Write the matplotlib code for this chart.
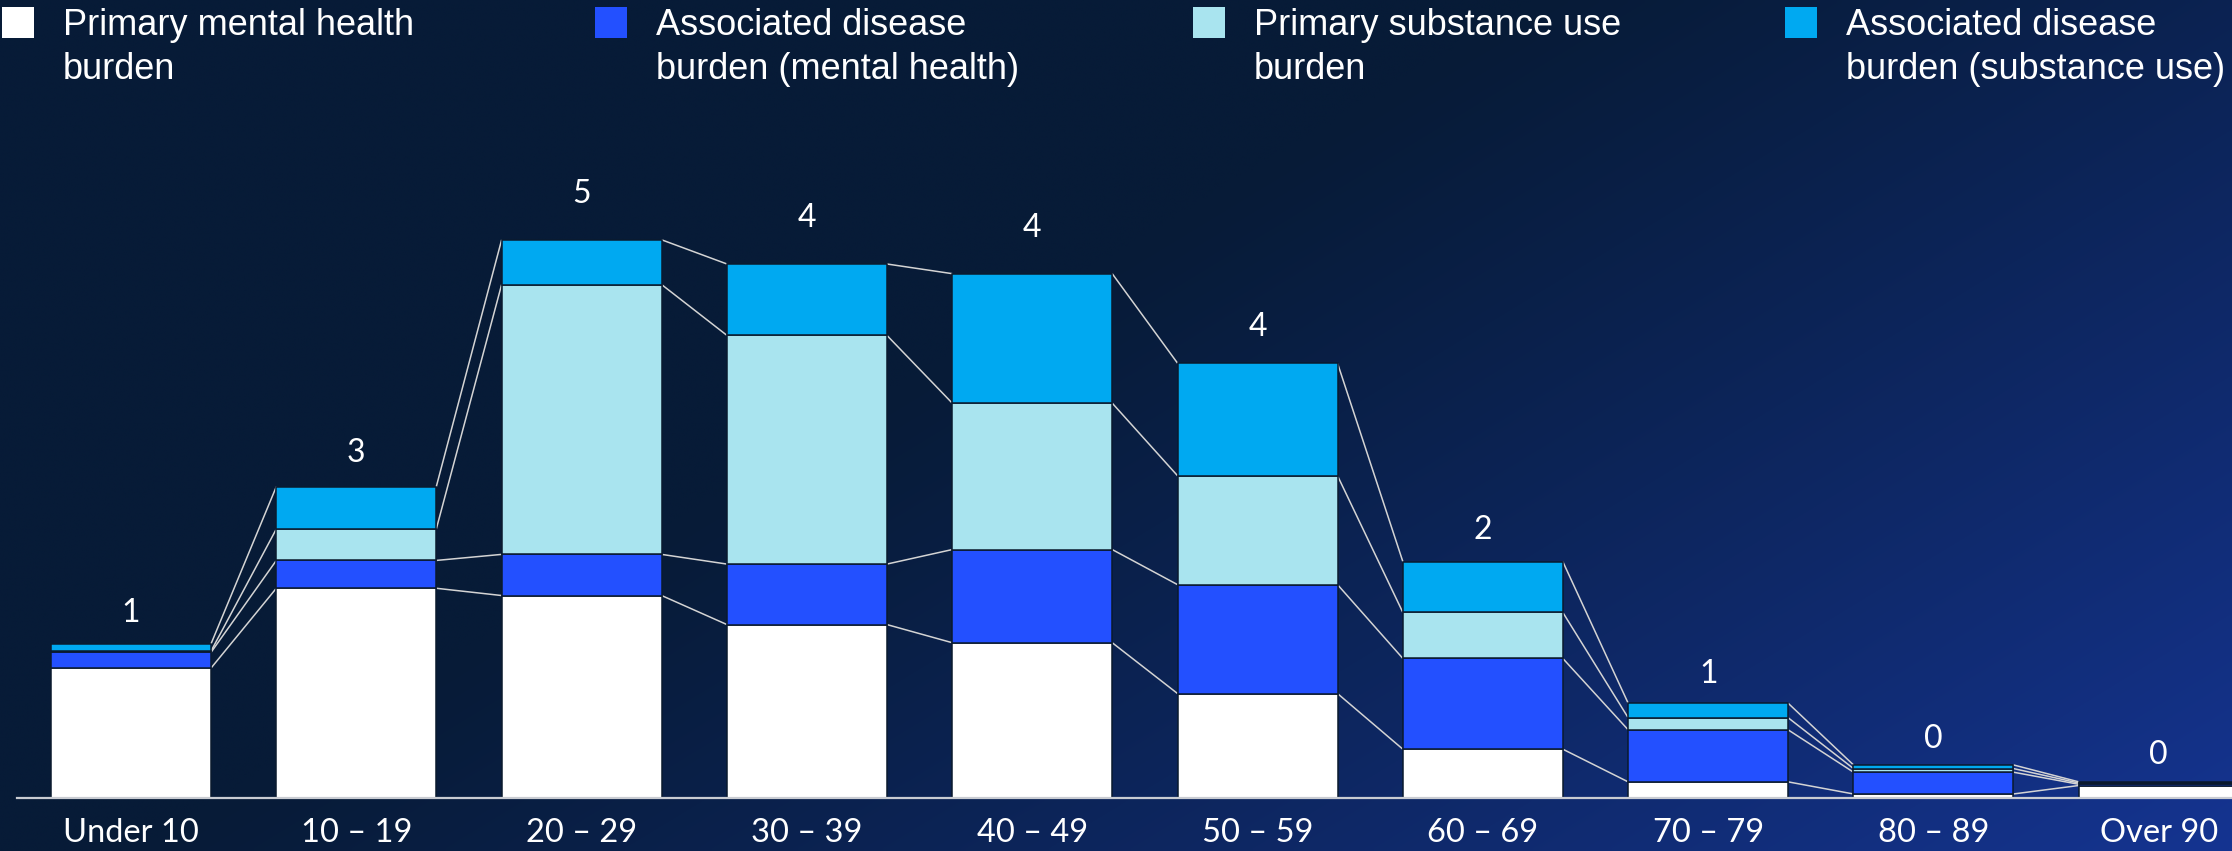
import matplotlib.pyplot as plt
import numpy as np
from matplotlib.patches import Rectangle

# burden by age group, stacked from the bottom up
age_groups = ["Under 10", "10 \u2013 19", "20 \u2013 29", "30 \u2013 39", "40 \u2013 49",
              "50 \u2013 59", "60 \u2013 69", "70 \u2013 79", "80 \u2013 89", "Over 90"]
primary_mh = [1.07, 1.73, 1.67, 1.43, 1.28, 0.86, 0.40, 0.13, 0.03, 0.10]
assoc_mh = [0.13, 0.23, 0.34, 0.50, 0.77, 0.90, 0.75, 0.43, 0.18, 0.01]
primary_su = [0.01, 0.26, 2.23, 1.89, 1.21, 0.90, 0.38, 0.10, 0.03, 0.01]
assoc_su = [0.06, 0.35, 0.37, 0.59, 1.07, 0.93, 0.42, 0.12, 0.03, 0.01]

series_names = ["Primary mental health\nburden",
                "Associated disease\nburden (mental health)",
                "Primary substance use\nburden",
                "Associated disease\nburden (substance use)"]
colors = ["#ffffff", "#2350ff", "#a9e4ef", "#00a9f1"]

# gap between bar top and total label, in points
label_gap = [22, 24, 33, 33, 33, 26, 23, 21, 19, 19]

W, H = 2232, 851
DPI = 100
fig = plt.figure(figsize=(W / DPI, H / DPI), dpi=DPI)

# background gradient, dark navy fading to blue at the lower right
bg = fig.add_axes([0, 0, 1, 1])
bg.set_xlim(0, W)
bg.set_ylim(H, 0)
bg.axis("off")
gx, gy = np.meshgrid(np.linspace(0, 1, 400), np.linspace(0, 1, 160))
t = np.clip((gx * 0.8 + gy * 0.5 - 0.55) / 0.75, 0, 1) ** 1.1
c0 = np.array([7, 27, 55]) / 255
c1 = np.array([21, 52, 145]) / 255
img = c0[None, None, :] * (1 - t[..., None]) + c1[None, None, :] * t[..., None]
bg.imshow(img, extent=[0, W, H, 0], aspect="auto", interpolation="bilinear")

# legend along the top
leg_sq = [2, 595, 1193, 1785]
for x0, name, col in zip(leg_sq, series_names, colors):
    bg.add_patch(Rectangle((x0, 7), 32, 31, facecolor=col, edgecolor="none"))
    bg.text(x0 + 61, 8, name, color="white", fontsize=26, family="Liberation Sans",
            va="top", ha="left", linespacing=1.32)

ax = fig.add_axes([17 / W, (H - 797.6) / H, (W - 17) / W, 667.6 / H])
ax.set_facecolor("none")
ax.patch.set_alpha(0)

x = np.arange(len(age_groups))
width = 0.71
stack = np.array([primary_mh, assoc_mh, primary_su, assoc_su])
bottoms = np.vstack([np.zeros(len(x)), np.cumsum(stack, axis=0)[:-1]])
tops = np.cumsum(stack, axis=0)

for vals, btm, col in zip(stack, bottoms, colors):
    ax.bar(x, vals, width, bottom=btm, color=col, edgecolor="#0a1a2e", linewidth=1.1, zorder=3)

# connector lines between matching segment tops
for s in range(len(stack)):
    for i in range(len(x) - 1):
        ax.plot([x[i] + width / 2, x[i + 1] - width / 2], [tops[s][i], tops[s][i + 1]],
                color="#d4d4d4", lw=1.1, zorder=2, solid_capstyle="butt")

totals = tops[-1]
for xi, tot, gap in zip(x, totals, label_gap):
    ax.annotate(f"{int(round(tot))}", (xi, tot), xytext=(0, gap), textcoords="offset points",
                ha="center", va="center", color="white", fontsize=23, family="Lato")

ax.set_xlim(-0.506, 9.325)
ax.set_ylim(0, 667.6 / 121)
ax.set_xticks(x)
ax.set_xticklabels(age_groups, color="white", fontsize=23.5, family="Lato")
ax.tick_params(axis="x", length=0, pad=15)
ax.set_yticks([])
for side in ["left", "right", "top"]:
    ax.spines[side].set_visible(False)
ax.spines["bottom"].set_color("#c9ccd2")
ax.spines["bottom"].set_linewidth(1.6)
ax.spines["bottom"].set_zorder(4)

fig.savefig("out.png", dpi=DPI)
